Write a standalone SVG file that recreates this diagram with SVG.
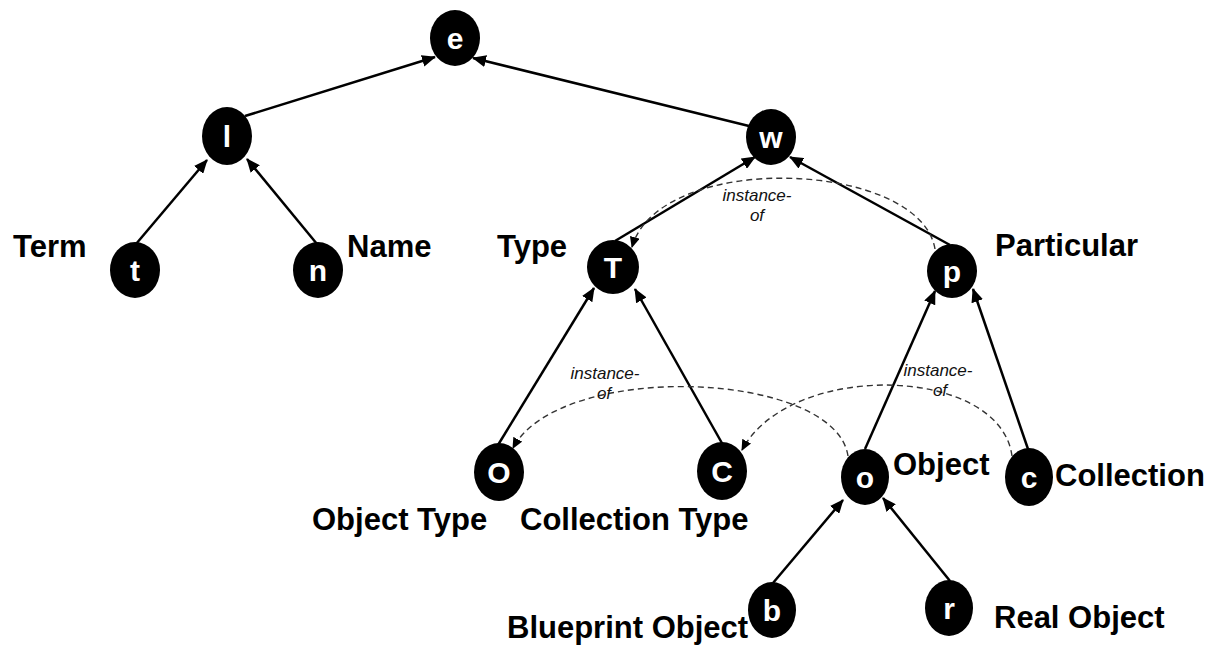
<svg xmlns="http://www.w3.org/2000/svg" width="1208" height="646" viewBox="0 0 1208 646">
  <style>
    .node ellipse { fill: #000; }
    .letter { fill: #fff; font-family: "Liberation Sans", Arial, sans-serif; font-weight: bold; font-size: 30px; text-anchor: middle; }
    .label { fill: #000; font-family: "Liberation Sans", Arial, sans-serif; font-weight: bold; font-size: 31px; text-anchor: start; }
    .edge { stroke: #000; stroke-width: 2.5; fill: none; marker-end: url(#arrow); }
    .inst { stroke: #333; stroke-width: 1.4; stroke-dasharray: 6 4; fill: none; marker-end: url(#arrowSmall); }
    .inst-text { fill: #111; font-family: "Liberation Sans", Arial, sans-serif; font-style: italic; font-size: 17px; text-anchor: middle; }
  </style>
  <defs>
    <marker id="arrow" markerUnits="userSpaceOnUse" markerWidth="14" markerHeight="12" refX="13" refY="6" orient="auto">
      <path d="M0,0 L14,6 L0,12 Z" fill="#000"/>
    </marker>
    <marker id="arrowSmall" markerUnits="userSpaceOnUse" markerWidth="11" markerHeight="10" refX="10" refY="5" orient="auto">
      <path d="M0,0 L11,5 L0,10 Z" fill="#000"/>
    </marker>
  </defs>
  <rect width="1208" height="646" fill="#fff"/>

  <!-- connectors -->
  <g id="connectors">
    <line class="edge" x1="245" y1="116" x2="435" y2="57"/>
    <line class="edge" x1="749" y1="126" x2="473" y2="58"/>
    <line class="edge" x1="136" y1="244" x2="207" y2="160"/>
    <line class="edge" x1="317" y1="244" x2="247" y2="159"/>
    <line class="edge" x1="615" y1="241" x2="755" y2="157"/>
    <line class="edge" x1="950" y1="245" x2="790" y2="157"/>
    <line class="edge" x1="498" y1="445" x2="594" y2="288"/>
    <line class="edge" x1="723" y1="445" x2="635" y2="289"/>
    <line class="edge" x1="865" y1="449" x2="935" y2="291"/>
    <line class="edge" x1="1028" y1="449" x2="973" y2="289"/>
    <line class="edge" x1="773" y1="583" x2="843" y2="500"/>
    <line class="edge" x1="950" y1="581" x2="883" y2="498"/>

    <!-- instance-of relations -->
    <path class="inst" d="M935,249 C920,160 660,150 632,247"/>
    <path class="inst" d="M848,456 C835,370 560,360 513,448"/>
    <path class="inst" d="M1012,456 C1000,365 790,360 742,450"/>
    <text class="inst-text" x="757" y="201">instance-</text>
    <text class="inst-text" x="757" y="221">of</text>
    <text class="inst-text" x="605" y="379">instance-</text>
    <text class="inst-text" x="604" y="399">of</text>
    <text class="inst-text" x="938" y="376">instance-</text>
    <text class="inst-text" x="940" y="396">of</text>
  </g>

  <!-- nodes -->
  <g id="node-e" class="node"><ellipse cx="455" cy="38" rx="25" ry="28"/><text class="letter" x="455" y="49">e</text></g>
  <g id="node-l" class="node"><ellipse cx="227" cy="136" rx="25" ry="29"/><text class="letter" x="227" y="147">l</text></g>
  <g id="node-w" class="node"><ellipse cx="771" cy="137" rx="25" ry="28"/><text class="letter" x="771" y="148">w</text></g>
  <g id="node-t" class="node"><ellipse cx="135" cy="270" rx="25" ry="28"/><text class="letter" x="135" y="281">t</text><text class="label" x="13" y="257">Term</text></g>
  <g id="node-n" class="node"><ellipse cx="318" cy="270" rx="25" ry="28"/><text class="letter" x="318" y="281">n</text><text class="label" x="347" y="257">Name</text></g>
  <g id="node-T" class="node"><ellipse cx="613" cy="267" rx="26" ry="27"/><text class="letter" x="613" y="278">T</text><text class="label" x="497" y="257">Type</text></g>
  <g id="node-p" class="node"><ellipse cx="952" cy="271" rx="25" ry="27"/><text class="letter" x="952" y="282">p</text><text class="label" x="995" y="256">Particular</text></g>
  <g id="node-O" class="node"><ellipse cx="499" cy="472" rx="25" ry="29"/><text class="letter" x="499" y="483">O</text><text class="label" x="312" y="530">Object Type</text></g>
  <g id="node-C" class="node"><ellipse cx="722" cy="471" rx="25" ry="29"/><text class="letter" x="722" y="482">C</text><text class="label" x="520" y="530">Collection Type</text></g>
  <g id="node-o" class="node"><ellipse cx="865" cy="477" rx="24" ry="28"/><text class="letter" x="865" y="488">o</text><text class="label" x="893" y="475">Object</text></g>
  <g id="node-c" class="node"><ellipse cx="1029" cy="477" rx="24" ry="29"/><text class="letter" x="1029" y="488">c</text><text class="label" x="1055" y="486">Collection</text></g>
  <g id="node-b" class="node"><ellipse cx="772" cy="610" rx="24" ry="28"/><text class="letter" x="772" y="621">b</text><text class="label" x="507" y="638">Blueprint Object</text></g>
  <g id="node-r" class="node"><ellipse cx="949" cy="608" rx="24" ry="28"/><text class="letter" x="949" y="619">r</text><text class="label" x="994" y="628">Real Object</text></g>
</svg>
